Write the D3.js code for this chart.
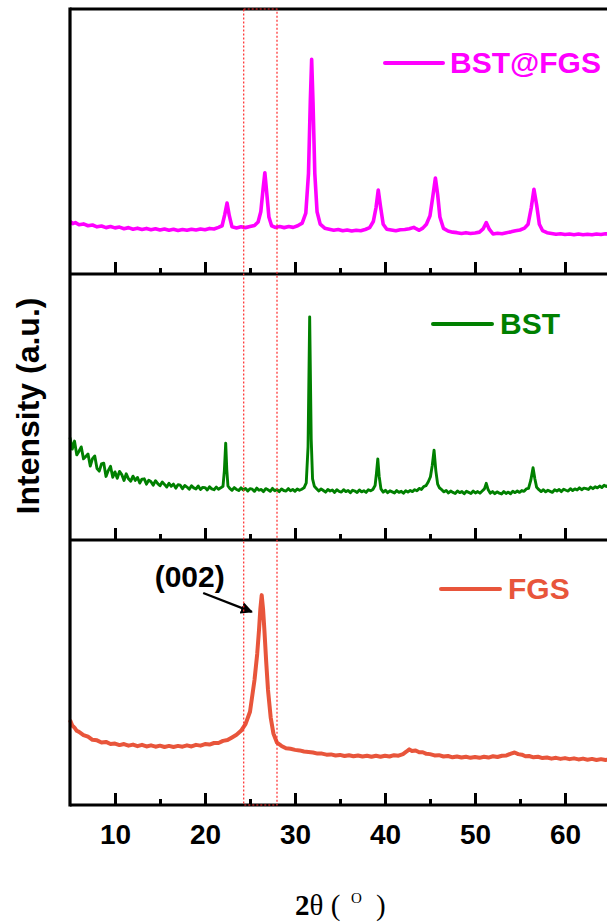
<!DOCTYPE html>
<html>
<head>
<meta charset="utf-8">
<script src="https://cdnjs.cloudflare.com/ajax/libs/d3/7.8.5/d3.min.js"></script>
<style>
  body { margin: 0; background: #fff; }
  svg { display: block; }
  .tick text { font-family: "Liberation Sans", Arial, sans-serif; font-weight: bold; font-size: 28px; fill: #000; }
</style>
</head>
<body>
<script>
// XRD patterns, [2theta, intensity in % of panel height]
var bstFgs = [
  [5.0,19.8],[5.3,19.0],[5.6,19.4],[6.0,18.6],[6.5,18.9],[7.0,18.2],[7.5,18.5],[8.0,17.8],[8.5,18.1],[9.0,17.5],
  [9.5,17.9],[10.0,17.4],[10.5,17.7],[11.0,17.1],[11.5,17.5],[12.0,16.9],[12.5,17.3],[13.0,16.8],[13.5,17.2],[14.0,16.7],
  [14.5,17.1],[15.0,16.6],[15.5,17.0],[16.0,16.5],[16.5,16.9],[17.0,16.4],[17.5,16.8],[18.0,16.5],[18.5,16.9],[19.0,16.6],
  [19.5,17.0],[20.0,16.7],[20.5,17.2],[21.0,17.0],[21.5,17.6],[21.9,18.2],[22.2,22.5],[22.45,26.8],[22.7,22.0],[23.0,17.8],
  [23.5,17.4],[24.0,17.8],[24.5,17.5],[25.0,17.9],[25.5,18.3],[25.9,19.6],[26.2,23.5],[26.45,32.0],[26.65,38.2],[26.85,31.0],
  [27.1,21.5],[27.4,18.2],[27.8,17.6],[28.3,17.9],[28.8,17.5],[29.3,17.9],[29.8,17.6],[30.3,18.2],[30.8,19.2],[31.2,23.0],
  [31.5,38.0],[31.7,65.0],[31.85,81.0],[32.0,65.0],[32.2,38.0],[32.45,23.5],[32.8,18.8],[33.3,17.3],[33.8,16.9],[34.3,16.5],
  [34.8,16.8],[35.3,16.3],[35.8,16.6],[36.3,16.2],[36.8,16.5],[37.3,16.3],[37.8,16.8],[38.3,17.5],[38.7,19.8],[39.0,25.0],
  [39.25,31.7],[39.5,25.5],[39.8,18.8],[40.2,16.9],[40.7,16.6],[41.2,16.3],[41.7,16.7],[42.2,16.8],[42.7,17.1],[43.2,17.6],
  [43.45,17.1],[43.8,16.5],[44.2,17.3],[44.6,18.8],[45.0,22.0],[45.3,29.0],[45.6,36.2],[45.85,30.0],[46.1,21.5],[46.5,17.2],
  [47.0,16.2],[47.5,15.8],[48.0,15.6],[48.5,15.3],[49.0,15.6],[49.5,15.3],[50.0,15.5],[50.5,15.8],[50.9,17.0],[51.25,19.4],
  [51.6,16.8],[52.0,15.1],[52.5,15.4],[53.0,15.2],[53.5,15.6],[54.0,15.9],[54.5,16.3],[55.0,16.6],[55.5,17.3],[55.9,18.8],
  [56.25,25.0],[56.55,32.0],[56.85,26.0],[57.15,18.8],[57.5,16.4],[58.0,15.6],[58.5,15.3],[59.0,15.0],[59.5,15.2],[60.0,14.9],
  [60.5,15.1],[61.0,14.8],[61.5,15.1],[62.0,14.8],[62.5,15.0],[63.0,14.8],[63.5,15.1],[64.0,14.9],[64.5,15.2],[65.0,15.0]
];

var bst = [
  [5.0,38.5],[5.25,34.2],[5.5,37.2],[5.75,32.0],[6.0,33.4],[6.25,35.0],[6.5,30.5],[6.75,31.4],[7.0,32.3],[7.25,27.8],
  [7.5,30.6],[7.75,31.6],[8.0,26.9],[8.25,25.9],[8.5,28.6],[8.75,28.9],[9.0,23.9],[9.25,26.1],[9.5,27.7],[9.75,23.6],
  [10.0,25.6],[10.25,23.2],[10.5,25.8],[10.75,24.6],[11.0,22.4],[11.25,24.9],[11.5,23.0],[11.75,22.1],[12.0,24.0],[12.25,22.4],
  [12.5,23.5],[12.75,21.4],[13.0,22.9],[13.25,23.0],[13.5,21.0],[13.75,22.5],[14.0,21.9],[14.25,20.6],[14.5,22.3],[14.75,21.2],
  [15.0,20.4],[15.25,21.8],[15.5,20.9],[15.75,19.9],[16.0,21.3],[16.25,20.2],[16.5,21.0],[16.75,19.5],[17.0,20.8],[17.25,20.6],
  [17.5,19.3],[17.75,20.5],[18.0,19.9],[18.25,19.1],[18.5,20.4],[18.75,19.6],[19.0,19.2],[19.25,20.3],[19.5,19.0],[19.75,19.8],
  [20.0,19.7],[20.25,18.8],[20.5,20.0],[20.75,19.2],[21.0,18.9],[21.25,19.9],[21.5,19.1],[21.75,19.6],[22.0,20.2],[22.15,26.0],
  [22.3,36.4],[22.42,26.5],[22.55,20.3],[22.75,19.4],[23.0,18.7],[23.25,19.7],[23.5,19.0],[23.75,18.6],[24.0,19.6],[24.25,18.8],
  [24.5,19.4],[24.75,18.4],[25.0,19.3],[25.25,19.1],[25.5,18.3],[25.75,19.5],[26.0,18.7],[26.25,19.0],[26.5,18.2],[26.75,19.3],
  [27.0,18.9],[27.25,18.3],[27.5,19.4],[27.75,18.5],[28.0,19.0],[28.25,18.2],[28.5,19.2],[28.75,18.6],[29.0,18.4],[29.25,19.3],
  [29.5,18.5],[29.75,19.0],[30.0,18.3],[30.25,19.2],[30.5,18.7],[30.75,19.1],[31.0,19.6],[31.25,21.5],[31.45,35.0],[31.63,83.9],
  [31.8,38.0],[31.95,23.0],[32.15,20.2],[32.4,19.3],[32.65,18.4],[32.9,19.2],[33.15,18.6],[33.4,18.0],[33.65,19.0],[33.9,18.4],
  [34.15,18.8],[34.4,17.9],[34.65,18.9],[34.9,18.3],[35.15,18.0],[35.4,18.9],[35.65,18.2],[35.9,18.6],[36.15,17.8],[36.4,18.7],
  [36.65,18.4],[36.9,17.9],[37.15,18.8],[37.4,18.1],[37.65,18.5],[37.9,17.9],[38.15,18.9],[38.4,18.5],[38.65,19.0],[38.9,20.5],
  [39.05,25.0],[39.2,30.5],[39.35,24.0],[39.55,19.2],[39.8,18.0],[40.05,18.7],[40.3,17.8],[40.55,18.5],[40.8,18.1],[41.05,17.7],
  [41.3,18.6],[41.55,17.9],[41.8,18.3],[42.05,17.6],[42.3,18.5],[42.55,18.0],[42.8,18.6],[43.05,18.2],[43.3,18.9],[43.55,18.5],
  [43.8,19.4],[44.05,19.0],[44.3,20.1],[44.55,20.4],[44.8,21.8],[45.05,23.8],[45.25,28.0],[45.45,33.8],[45.65,26.0],[45.85,21.0],
  [46.05,19.6],[46.3,18.9],[46.55,18.1],[46.8,18.6],[47.05,17.7],[47.3,18.4],[47.55,17.9],[47.8,17.5],[48.05,18.4],[48.3,17.8],
  [48.55,18.2],[48.8,17.4],[49.05,18.3],[49.3,17.9],[49.55,17.5],[49.8,18.4],[50.05,17.7],[50.3,18.2],[50.55,17.6],[50.8,18.4],
  [51.05,19.2],[51.25,21.3],[51.45,19.0],[51.7,17.6],[51.95,18.2],[52.2,17.4],[52.45,18.1],[52.7,17.6],[52.95,17.3],[53.2,18.2],
  [53.45,17.5],[53.7,18.0],[53.95,17.4],[54.2,18.3],[54.45,17.8],[54.7,18.4],[54.95,17.9],[55.2,18.6],[55.45,18.3],[55.7,19.2],
  [55.95,19.4],[56.2,22.5],[56.45,27.2],[56.65,23.0],[56.85,19.8],[57.1,18.9],[57.35,18.2],[57.6,18.9],[57.85,18.1],[58.1,18.7],
  [58.35,18.3],[58.6,17.9],[58.85,18.9],[59.1,18.4],[59.35,19.0],[59.6,18.2],[59.85,19.1],[60.1,18.7],[60.35,18.4],[60.6,19.3],
  [60.85,18.6],[61.1,19.2],[61.35,18.8],[61.6,19.6],[61.85,18.9],[62.1,19.5],[62.35,19.3],[62.6,19.0],[62.85,19.9],[63.1,19.3],
  [63.35,20.0],[63.6,19.6],[63.85,20.3],[64.1,19.7],[64.35,20.6],[64.6,20.1],[64.85,20.8],[65.0,20.4]
];

var fgs = [
  [5.0,32.1],[5.25,30.0],[5.5,29.2],[5.75,28.0],[6.0,27.6],[6.5,26.4],[7.0,25.8],[7.5,24.6],[8.0,24.4],[8.5,23.6],
  [9.0,23.8],[9.5,23.0],[10.0,23.2],[10.5,22.6],[11.0,23.0],[11.5,22.4],[12.0,22.8],[12.5,22.2],[13.0,22.7],[13.5,22.1],
  [14.0,22.5],[14.5,22.0],[15.0,22.4],[15.5,21.9],[16.0,22.3],[16.5,21.9],[17.0,22.3],[17.5,22.0],[18.0,22.5],[18.5,22.1],
  [19.0,22.7],[19.5,22.4],[20.0,23.0],[20.5,22.8],[21.0,23.4],[21.5,23.4],[22.0,24.2],[22.5,24.5],[23.0,25.5],[23.5,26.5],
  [24.0,28.0],[24.5,30.5],[25.0,35.2],[25.5,47.2],[25.8,57.0],[26.0,66.0],[26.15,74.0],[26.3,79.2],[26.45,74.0],[26.6,66.0],
  [26.8,54.0],[27.0,43.4],[27.3,33.0],[27.6,27.0],[28.0,23.5],[28.5,22.3],[29.0,21.4],[29.5,21.2],[30.0,20.8],[30.5,20.6],
  [31.0,20.2],[31.5,20.0],[32.0,19.8],[32.5,19.4],[33.0,19.4],[33.5,19.0],[34.0,19.1],[34.5,18.7],[35.0,18.9],[35.5,18.5],
  [36.0,18.8],[36.5,18.4],[37.0,18.7],[37.5,18.3],[38.0,18.6],[38.5,18.2],[39.0,18.6],[39.5,18.2],[40.0,18.6],[40.5,18.3],
  [41.0,18.8],[41.5,18.6],[42.0,19.2],[42.4,20.2],[42.7,21.0],[43.0,20.4],[43.4,20.6],[43.8,19.9],[44.2,19.9],[44.6,19.3],
  [45.0,19.2],[45.5,18.7],[46.0,18.8],[46.5,18.3],[47.0,18.5],[47.5,18.0],[48.0,18.3],[48.5,17.9],[49.0,18.2],[49.5,17.8],
  [50.0,18.1],[50.5,17.8],[51.0,18.2],[51.5,17.9],[52.0,18.4],[52.5,18.1],[53.0,18.6],[53.5,18.7],[54.0,19.4],[54.4,19.8],
  [54.8,19.2],[55.2,19.0],[55.6,18.4],[56.0,18.5],[56.5,18.0],[57.0,18.2],[57.5,17.7],[58.0,17.9],[58.5,17.5],[59.0,17.8],
  [59.5,17.4],[60.0,17.7],[60.5,17.3],[61.0,17.6],[61.5,17.2],[62.0,17.5],[62.5,17.1],[63.0,17.4],[63.5,17.0],[64.0,17.3],
  [64.5,17.0],[65.0,17.2]
];

var seriesNames = ["BST@FGS", "BST", "FGS"];
var seriesColors = ["#ff00ff", "#008000", "#e8553b"];
var majorTicks = [10, 20, 30, 40, 50, 60];
var minorTicks = [15, 25, 35, 45, 55];
var guideBand = [24.3, 28.0];          // dotted red box around the (002) peak
var peakLabel = ["(002)", 18.3, 82.3]; // text, 2theta, intensity (FGS panel)
var arrowFrom = [19.8, 80.0];
var arrowTo = [25.2, 72.9];

var width = 607, height = 922;
var left = 70, right = 610;
var panelTops = [9, 274, 540], panelBottoms = [274, 540, 805];

var svg = d3.select("body").append("svg")
    .attr("width", width)
    .attr("height", height);

var x = d3.scaleLinear().domain([5, 65]).range([left, right]);

var ys = panelTops.map(function(t, i) {
  return d3.scaleLinear().domain([0, 100]).range([panelBottoms[i], t]);
});

var allData = [bstFgs, bst, fgs];
var widths = [3.6, 2.9, 4];

// the three patterns
allData.forEach(function(data, i) {
  var line = d3.line()
      .x(function(d) { return x(d[0]); })
      .y(function(d) { return ys[i](d[1]); });
  svg.append("path")
      .datum(data)
      .attr("fill", "none")
      .attr("stroke", seriesColors[i])
      .attr("stroke-width", widths[i])
      .attr("stroke-linejoin", "round")
      .attr("d", line);
});

// inward ticks on the bottom of each panel
panelBottoms.forEach(function(b, i) {
  var major = svg.append("g")
      .attr("transform", "translate(0," + b + ")")
      .call(d3.axisBottom(x).tickValues(majorTicks).tickSize(-12).tickPadding(19)
        .tickFormat(i == 2 ? d3.format("d") : function() { return ""; }));
  var minor = svg.append("g")
      .attr("transform", "translate(0," + b + ")")
      .call(d3.axisBottom(x).tickValues(minorTicks).tickSize(-6).tickFormat(""));
  [major, minor].forEach(function(g) {
    g.select(".domain").remove();
    g.selectAll(".tick line").attr("stroke", "#000").attr("stroke-width", 3);
  });
});

// frame lines
var hLines = [panelTops[0]].concat(panelBottoms);
svg.selectAll(".hline")
    .data(hLines)
  .enter().append("line")
    .attr("class", "hline")
    .attr("x1", left).attr("x2", right)
    .attr("y1", function(d) { return d; }).attr("y2", function(d) { return d; })
    .attr("stroke", "#000").attr("stroke-width", 3.2);
svg.append("line")
    .attr("x1", left).attr("x2", left)
    .attr("y1", panelTops[0] - 1.6).attr("y2", panelBottoms[2] + 1.6)
    .attr("stroke", "#000").attr("stroke-width", 3.2);

// legends
var legendPos = [[385, 443, 63, 450], [433, 492, 324, 500], [441, 500, 589, 508]];
legendPos.forEach(function(p, i) {
  svg.append("line")
      .attr("x1", p[0]).attr("x2", p[1]).attr("y1", p[2]).attr("y2", p[2])
      .attr("stroke", seriesColors[i]).attr("stroke-width", 4).attr("stroke-linecap", "round");
  svg.append("text")
      .attr("x", p[3]).attr("y", p[2] + 10)
      .attr("fill", seriesColors[i])
      .style("font-family", "'Liberation Sans', Arial, sans-serif")
      .style("font-weight", "bold").style("font-size", "30px")
      .text(seriesNames[i]);
});

// (002) annotation
svg.append("defs").append("marker")
    .attr("id", "arrow").attr("viewBox", "0 0 10 10")
    .attr("refX", 9).attr("refY", 5)
    .attr("markerWidth", 5).attr("markerHeight", 5)
    .attr("orient", "auto")
  .append("path").attr("d", "M0,0 L10,5 L0,10 Z").attr("fill", "#000");
svg.append("line")
    .attr("x1", x(arrowFrom[0])).attr("y1", ys[2](arrowFrom[1]))
    .attr("x2", x(arrowTo[0])).attr("y2", ys[2](arrowTo[1]))
    .attr("stroke", "#000").attr("stroke-width", 2.4)
    .attr("marker-end", "url(#arrow)");
svg.append("text")
    .attr("x", x(peakLabel[1])).attr("y", ys[2](peakLabel[2]))
    .attr("text-anchor", "middle")
    .style("font-family", "'Liberation Sans', Arial, sans-serif")
    .style("font-weight", "bold").style("font-size", "30px")
    .text(peakLabel[0]);

// dotted guide box
svg.append("rect")
    .attr("x", x(guideBand[0])).attr("y", panelTops[0])
    .attr("width", x(guideBand[1]) - x(guideBand[0]))
    .attr("height", panelBottoms[2] - panelTops[0])
    .attr("fill", "none").attr("stroke", "#ff2a2a")
    .attr("stroke-width", 1.2).attr("stroke-dasharray", "2,2");

// axis titles
svg.append("text")
    .attr("transform", "translate(39,406) rotate(-90)")
    .attr("text-anchor", "middle")
    .style("font-family", "'Liberation Sans', Arial, sans-serif")
    .style("font-weight", "bold").style("font-size", "32px")
    .text("Intensity (a.u.)");

var xt = svg.append("text")
    .attr("y", 915)
    .style("font-family", "'Liberation Serif', 'Times New Roman', serif")
    .style("font-size", "29px");
xt.append("tspan").attr("x", 295).style("font-weight", "bold").text("2");
xt.append("tspan").text("θ (");
xt.append("tspan").attr("x", 351).attr("y", 903).style("font-size", "15px").text("O");
xt.append("tspan").attr("x", 376).attr("y", 915).text(")");
</script>
</body>
</html>
